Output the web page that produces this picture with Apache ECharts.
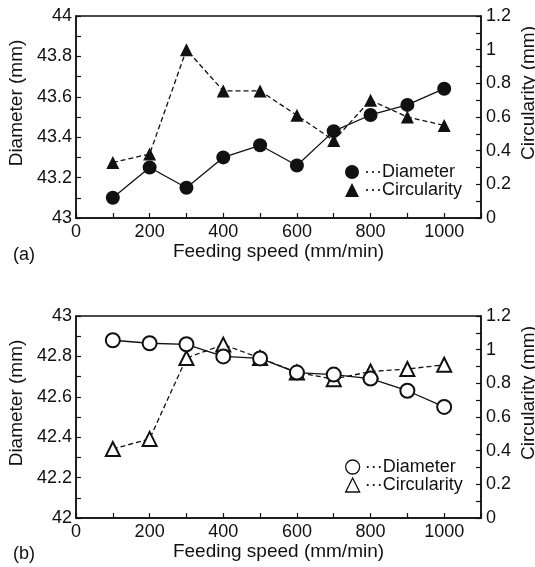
<!DOCTYPE html>
<html>
<head>
<meta charset="utf-8">
<script src="https://cdn.jsdelivr.net/npm/echarts@6/dist/echarts.min.js"></script>
<style>
  html, body { margin: 0; padding: 0; background: #fff; }
  #chart { width: 535px; height: 567px; }
</style>
</head>
<body>
<div id="chart"></div>
<script>
// feeding speed (mm/min)
const speeds = [100, 200, 300, 400, 500, 600, 700, 800, 900, 1000];
// (a)
const diameterA = [43.1, 43.25, 43.15, 43.3, 43.36, 43.26, 43.43, 43.51, 43.56, 43.64];
const circularityA = [0.33, 0.38, 1.0, 0.755, 0.755, 0.61, 0.46, 0.70, 0.60, 0.55];
// (b)
const diameterB = [42.88, 42.865, 42.86, 42.80, 42.79, 42.72, 42.71, 42.69, 42.63, 42.55];
const circularityB = [0.41, 0.47, 0.95, 1.03, 0.95, 0.865, 0.825, 0.87, 0.885, 0.91];

const pairs = (ys) => speeds.map((x, i) => [x, ys[i]]);

const FONT = 'Liberation Sans, Arial, sans-serif';
const INK = '#111';

function xAxisFor(gridIndex) {
  return {
    gridIndex: gridIndex,
    type: 'value',
    min: 0, max: 1100, interval: 100,
    name: 'Feeding speed (mm/min)',
    nameLocation: 'middle',
    nameGap: 24,
    nameTextStyle: { fontSize: 19, color: INK, fontFamily: FONT },
    axisLine: { lineStyle: { color: INK, width: 1.5 } },
    axisTick: { inside: true, length: 5, lineStyle: { color: INK, width: 1.2 } },
    splitLine: { show: false },
    axisLabel: {
      fontSize: 18, color: INK, fontFamily: FONT, margin: 5,
      formatter: v => (v % 200 === 0 && v <= 1000) ? String(v) : ''
    }
  };
}

function leftAxisFor(gridIndex, min, max) {
  return {
    gridIndex: gridIndex,
    type: 'value',
    position: 'left',
    min: min, max: max, interval: 0.2,
    name: 'Diameter (mm)',
    nameLocation: 'middle',
    nameGap: 47,
    nameTextStyle: { fontSize: 19, color: INK, fontFamily: FONT, padding: [0, 0, 0, 28] },
    axisLine: { show: true, lineStyle: { color: INK, width: 1.5 } },
    axisTick: { inside: true, length: 5, lineStyle: { color: INK, width: 1.2 } },
    minorTick: { show: true, splitNumber: 2, length: 5, lineStyle: { color: INK, width: 1.2 } },
    splitLine: { show: false },
    axisLabel: { fontSize: 18, color: INK, fontFamily: FONT, margin: 4 }
  };
}

function rightAxisFor(gridIndex) {
  return {
    gridIndex: gridIndex,
    type: 'value',
    position: 'right',
    min: 0, max: 1.2, interval: 0.2,
    name: 'Circularity (mm)',
    nameLocation: 'middle',
    nameGap: 38,
    nameMoveOverlap: false,
    nameTextStyle: { fontSize: 19, color: INK, fontFamily: FONT, padding: [0, 0, 0, 48] },
    axisLine: { show: true, lineStyle: { color: INK, width: 1.5 } },
    axisTick: { inside: true, length: 5, lineStyle: { color: INK, width: 1.2 } },
    minorTick: { show: true, splitNumber: 2, length: 5, lineStyle: { color: INK, width: 1.2 } },
    splitLine: { show: false },
    axisLabel: { fontSize: 18, color: INK, fontFamily: FONT, margin: 5 }
  };
}

function legendFor(top, names, hollow) {
  return {
    orient: 'vertical',
    left: 340, top: top,
    itemWidth: 14, itemHeight: 14, itemGap: 0, itemTextGap: 8,
    selectedMode: false,
    textStyle: { fontSize: 18, color: INK, fontFamily: FONT },
    formatter: n => '\u00b7\u00b7\u00b7' + n.slice(2),
    data: [
      { name: names[0], icon: 'circle',
        itemStyle: hollow ? { color: '#fff', borderColor: INK, borderWidth: 1.3 } : { color: INK, borderWidth: 0 } },
      { name: names[1], icon: 'triangle',
        itemStyle: hollow ? { color: '#fff', borderColor: INK, borderWidth: 1.3 } : { color: INK, borderWidth: 0 } }
    ]
  };
}

const chart = echarts.init(document.getElementById('chart'));
chart.setOption({
  backgroundColor: '#fff',
  animation: false,
  title: [
    { text: '(a)', left: 8, top: 241, textStyle: { fontSize: 18, fontWeight: 'normal', color: INK, fontFamily: FONT } },
    { text: '(b)', left: 8, top: 540, textStyle: { fontSize: 18, fontWeight: 'normal', color: INK, fontFamily: FONT } }
  ],
  grid: [
    { left: 76, right: 54, top: 16, height: 202, show: true, borderColor: INK, borderWidth: 1.5, outerBoundsMode: 'none' },
    { left: 76, right: 54, top: 316, height: 202, show: true, borderColor: INK, borderWidth: 1.5, outerBoundsMode: 'none' }
  ],
  legend: [
    legendFor(158, ['a-Diameter', 'a-Circularity'], false),
    legendFor(453, ['b-Diameter', 'b-Circularity'], true)
  ],
  xAxis: [xAxisFor(0), xAxisFor(1)],
  yAxis: [leftAxisFor(0, 43, 44), rightAxisFor(0), leftAxisFor(1, 42, 43), rightAxisFor(1)],
  series: [
    {
      name: 'a-Circularity', type: 'line', xAxisIndex: 0, yAxisIndex: 1,
      data: pairs(circularityA),
      symbol: 'triangle', symbolSize: 13,
      lineStyle: { color: INK, width: 1.3, type: [5, 3] },
      itemStyle: { color: INK }
    },
    {
      name: 'a-Diameter', type: 'line', xAxisIndex: 0, yAxisIndex: 0,
      data: pairs(diameterA),
      symbol: 'circle', symbolSize: 14,
      lineStyle: { color: INK, width: 1.3 },
      itemStyle: { color: INK }
    },
    {
      name: 'b-Circularity', type: 'line', xAxisIndex: 1, yAxisIndex: 3,
      data: pairs(circularityB),
      symbol: 'emptyTriangle', symbolSize: 14,
      lineStyle: { color: INK, width: 1.3, type: [5, 3] },
      itemStyle: { color: INK, borderWidth: 1.3 }
    },
    {
      name: 'b-Diameter', type: 'line', xAxisIndex: 1, yAxisIndex: 2,
      data: pairs(diameterB),
      symbol: 'emptyCircle', symbolSize: 14,
      lineStyle: { color: INK, width: 1.3 },
      itemStyle: { color: INK, borderWidth: 1.3 }
    }
  ]
});
</script>
</body>
</html>
